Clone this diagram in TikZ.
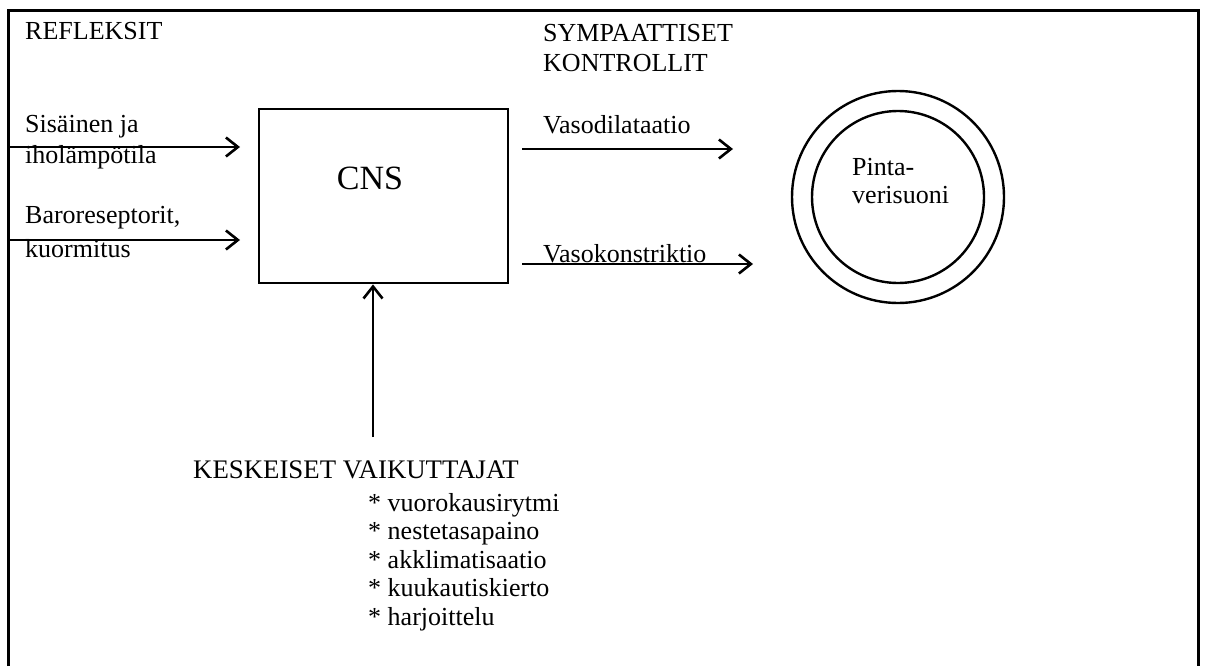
\documentclass[tikz,border=0pt]{standalone}
\usepackage{fontspec}
\setmainfont{Liberation Serif}
\usetikzlibrary{arrows.meta}
\begin{document}
\begin{tikzpicture}[x=1pt,y=-1pt,
  txt/.style={anchor=base west,inner sep=0pt,font=\fontsize{26}{28}\selectfont},
  arr/.style={line width=2.6pt,-{Straight Barb[length=12pt,width=19pt,line width=2.6pt]}},
  ring/.style={draw,circle,line width=2.4pt,inner sep=0pt}
]
\useasboundingbox (0,0) rectangle (1206,666);
% frame
\draw[line width=3pt] (8,666) -- (8,11) -- (1198,11) -- (1198,666);
% CNS box
\node[draw,line width=2.8pt,minimum width=249pt,minimum height=174pt,inner sep=0pt] (cns) at (383.5,196) {};
\node[anchor=base,inner sep=0pt,font=\fontsize{34}{36}\selectfont] (cnslbl) at (370,189) {CNS};
% headings
\node[txt] (refl) at (25,40) {REFLEKSIT};
\node[txt] (symp1) at (543,42) {SYMPAATTISET};
\node[txt] (symp2) at (543,72) {KONTROLLIT};
% left inputs
\node[txt] (in1a) at (25,132) {Sisäinen ja};
\node[txt] (in1b) at (25,163) {iholämpötila};
\node[txt] (in2a) at (25,223) {Baroreseptorit,};
\node[txt] (in2b) at (25,257) {kuormitus};
\coordinate (a1s) at (8,147);
\coordinate (a1e) at (240,147);
\coordinate (a2s) at (8,240);
\coordinate (a2e) at (240,240);
\draw[arr] (a1s) -- (a1e);
\draw[arr] (a2s) -- (a2e);
% outputs
\node[txt] (out1) at (543,133) {Vasodilataatio};
\node[txt] (out2) at (543,262) {Vasokonstriktio};
\coordinate (b1s) at (522,149);
\coordinate (b1e) at (733,149);
\coordinate (b2s) at (522,264);
\coordinate (b2e) at (753,264);
\draw[arr] (b1s) -- (b1e);
\draw[arr] (b2s) -- (b2e);
% vessel
\node[ring,minimum size=212pt] (outer) at (898,197) {};
\node[ring,minimum size=172pt] (inner) at (898,197) {};
\node[txt] (v1) at (852,175) {Pinta-};
\node[txt] (v2) at (852,203) {verisuoni};
% central influences
\coordinate (vb) at (373,437);
\draw[arr] (vb) -- (cns.south -| vb);
\node[txt,font=\fontsize{26.8}{28}\selectfont] (kesk) at (193,478) {KESKEISET VAIKUTTAJAT};
\node[txt] (k1) at (368,511) {* vuorokausirytmi};
\node[txt] (k2) at (368,539.5) {* nestetasapaino};
\node[txt] (k3) at (368,568) {* akklimatisaatio};
\node[txt] (k4) at (368,596.5) {* kuukautiskierto};
\node[txt] (k5) at (368,625) {* harjoittelu};
\end{tikzpicture}
\end{document}
